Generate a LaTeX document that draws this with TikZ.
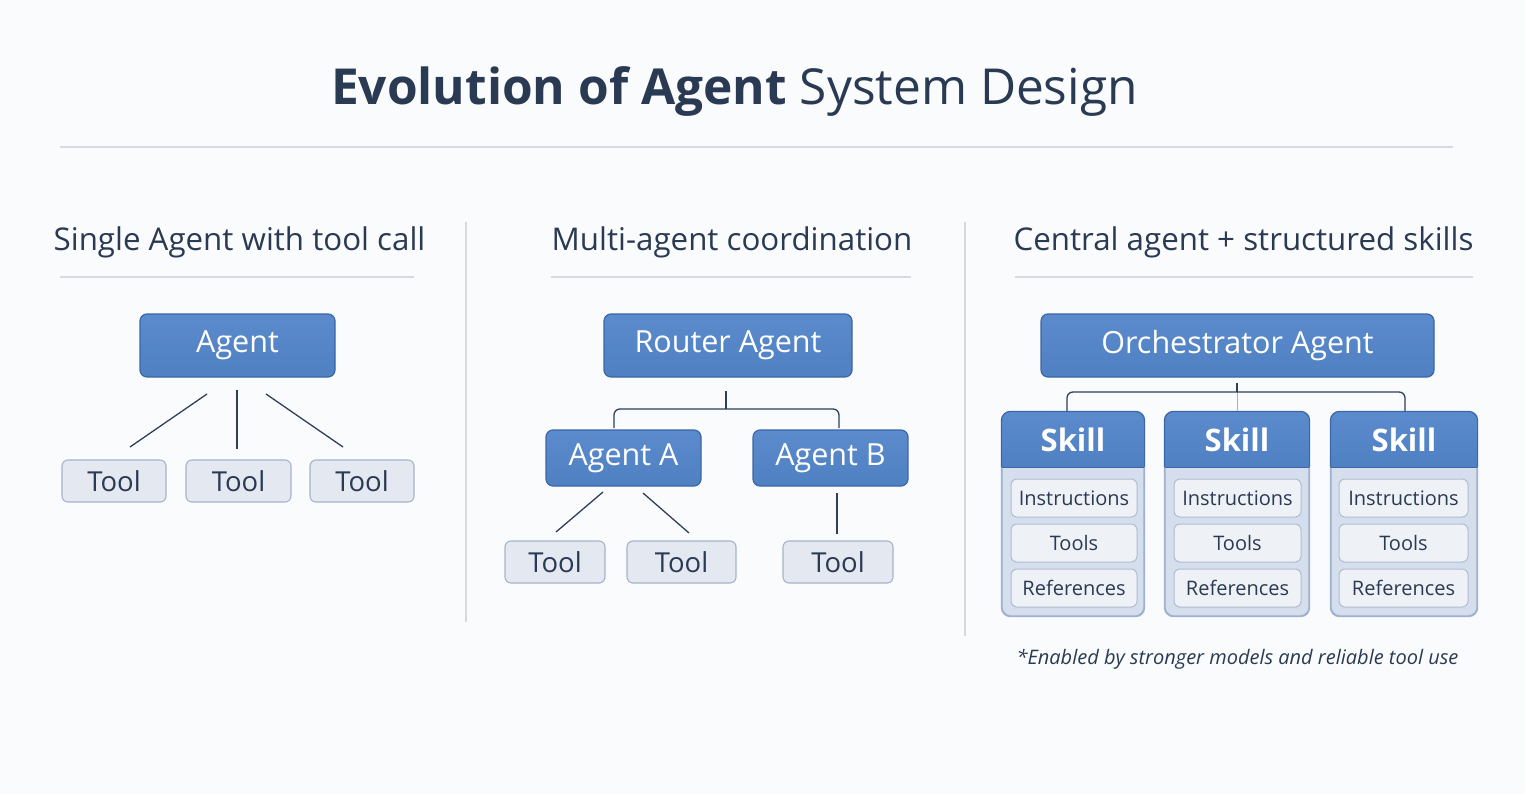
\documentclass[tikz,border=0pt]{standalone}
\usepackage{fontspec}
\setmainfont{Open Sans}
\usetikzlibrary{calc}
\definecolor{bg}{HTML}{FAFBFC}
\definecolor{ink}{HTML}{2A3A52}
\definecolor{rulec}{HTML}{D6DAE0}
\definecolor{blueF}{HTML}{4F80C2}
\definecolor{blueT}{HTML}{5B8BCC}
\definecolor{blueD}{HTML}{3C66A6}
\definecolor{toolF}{HTML}{E3E8F1}
\definecolor{toolD}{HTML}{A6B3C8}
\definecolor{bodyF}{HTML}{D5DEEC}
\definecolor{bodyD}{HTML}{9EB1CE}
\definecolor{itemF}{HTML}{EEF1F6}
\definecolor{itemD}{HTML}{AFBCD1}
\definecolor{conn}{HTML}{2E3F5C}
\tikzset{
  x=1pt, y=-1pt,
  agentbox/.style={draw=blueD, line width=1.2pt, rounded corners=7pt, top color=blueT, bottom color=blueF, text=white, font=\fontsize{30.5}{32}\selectfont, inner sep=0pt},
  toolbox/.style={draw=toolD, line width=1.1pt, rounded corners=6pt, fill=toolF, text=ink, font=\fontsize{27.5}{29}\selectfont, inner sep=0pt, minimum height=42pt},
  skillbody/.style={draw=bodyD, line width=1.2pt, rounded corners=9pt, fill=bodyF, inner sep=0pt, minimum height=204pt},
  itembox/.style={draw=itemD, line width=1pt, rounded corners=6pt, fill=itemF, text=ink, font=\fontsize{20}{22}\selectfont, inner sep=0pt, minimum height=38pt},
  connline/.style={draw=conn, line width=1.3pt},
  rulel/.style={draw=rulec, line width=1.2pt},
  heading/.style={text=ink, font=\fontsize{31.3}{33}\selectfont, anchor=base, inner sep=0pt},
}
\begin{document}
\begin{tikzpicture}
\fill[bg] (0,0) rectangle (1525,794);
\useasboundingbox (0,0) rectangle (1525,794);

% title
\node[text=ink, anchor=base, inner sep=0pt, font=\fontsize{49.6}{54}\selectfont] (title) at (734.5,105) {\textbf{Evolution of Agent} System Design};
\coordinate (trL) at (60,147); \coordinate (trR) at (1453,147);
\draw[rulel] (trL) -- (trR);

% dividers
\coordinate (d1t) at (466,222); \coordinate (d1b) at (466,622);
\coordinate (d2t) at (965,222); \coordinate (d2b) at (965,636);
\draw[rulel] (d1t) -- (d1b);
\draw[rulel] (d2t) -- (d2b);

% headings
\node[heading] (h1) at (239.5,251) {Single Agent with tool call};
\node[heading] (h2) at (732,251) {Multi-agent coordination};
\node[heading] (h3) at (1243.5,251) {Central agent + structured skills};
\coordinate (u1L) at (60,277); \coordinate (u1R) at (414,277);
\coordinate (u2L) at (551,277); \coordinate (u2R) at (911,277);
\coordinate (u3L) at (1015,277); \coordinate (u3R) at (1473,277);
\draw[rulel] (u1L) -- (u1R);
\draw[rulel] (u2L) -- (u2R);
\draw[rulel] (u3L) -- (u3R);

% ---------- panel 1
\node[agentbox, minimum width=195pt, minimum height=63pt] (ag1) at (237.5,345.5) {Agent};
\node[toolbox, minimum width=104pt] (t1a) at (114,481) {Tool};
\node[toolbox, minimum width=105pt] (t1b) at (238.5,481) {Tool};
\node[toolbox, minimum width=104pt] (t1c) at (362,481) {Tool};
\coordinate (c1a) at (207,394); \coordinate (e1a) at (130,447);
\coordinate (c1b) at (237,390); \coordinate (e1b) at (237,449);
\coordinate (c1c) at (266,394); \coordinate (e1c) at (343,447);
\draw[connline] (c1a) -- (e1a);
\draw[connline] (c1b) -- (e1b);
\draw[connline] (c1c) -- (e1c);

% ---------- panel 2
\node[agentbox, minimum width=248pt, minimum height=63pt] (rt) at (728,345.5) {Router Agent};
\node[agentbox, minimum width=155pt, minimum height=56pt] (agA) at (623.5,458) {Agent A};
\node[agentbox, minimum width=155pt, minimum height=56pt] (agB) at (830.5,458) {Agent B};
\node[toolbox, minimum width=100pt] (t2a) at (555,562) {Tool};
\node[toolbox, minimum width=109pt] (t2b) at (681.5,562) {Tool};
\node[toolbox, minimum width=110pt] (t2c) at (838,562) {Tool};
\coordinate (r0) at (726,391); \coordinate (r1) at (726,409);
\coordinate (rA) at (614,428); \coordinate (rB) at (839,428);
\draw[connline] (r0) -- (r1);
\draw[connline, rounded corners=6pt] (rA) |- (r1) -| (rB);
\coordinate (c2a) at (603,492); \coordinate (e2a) at (556,532);
\coordinate (c2b) at (643,493); \coordinate (e2b) at (689,533);
\coordinate (c2c) at (837,493); \coordinate (e2c) at (837,534);
\draw[connline] (c2a) -- (e2a);
\draw[connline] (c2b) -- (e2b);
\draw[connline] (c2c) -- (e2c);

% ---------- panel 3
\node[agentbox, minimum width=393pt, minimum height=63pt] (orc) at (1237.5,345.5) {Orchestrator Agent};
\foreach \n/\cx/\w/\ix/\iw in {1/1073/142/1074/126, 2/1237/144/1237.5/127, 3/1404/146/1403.5/129} {
  \node[skillbody, minimum width=\w pt] (s\n) at (\cx,514) {};
  \begin{scope}
    \clip[rounded corners=9pt] (s\n.south west) rectangle (s\n.north east);
    \fill[top color=blueT, bottom color=blueF] (s\n.north west) rectangle ($(s\n.north east)+(0,56)$);
    \draw[blueD, line width=1pt] ($(s\n.north west)+(0,56)$) -- ($(s\n.north east)+(0,56)$);
  \end{scope}
  \draw[blueD, line width=1.2pt, rounded corners=9pt] ($(s\n.north west)+(0,56)$) |- (s\n.north) -| ($(s\n.north east)+(0,56)$);
  \draw[bodyD, line width=1.2pt, rounded corners=9pt] ($(s\n.north west)+(0,56)$) |- (s\n.south) -| ($(s\n.north east)+(0,56)$);
  \node[text=white, font=\fontsize{31}{33}\selectfont\bfseries, anchor=base, inner sep=0pt] (sk\n) at ($(s\n.north)+(0,40)$) {Skill};
  \node[itembox, minimum width=\iw pt] (ins\n) at (\ix,498) {Instructions};
  \node[itembox, minimum width=\iw pt] (tls\n) at (\ix,543) {Tools};
  \node[itembox, minimum width=\iw pt] (ref\n) at (\ix,588) {References};
}
\coordinate (o0) at (1237,383); \coordinate (o1) at (1237,392); \coordinate (o2) at (1237,411);
\coordinate (oA) at (1067,411); \coordinate (oB) at (1405,411);
\draw[connline] (o0) -- (o1);
\draw[draw=bodyD, line width=1pt] (o1) -- (o2);
\draw[connline, rounded corners=6pt] (oA) |- (o1) -| (oB);

\node[text=ink, anchor=base, inner sep=0pt, font=\fontsize{20}{22}\selectfont\itshape] (note) at (1237.5,664) {*Enabled by stronger models and reliable tool use};
\end{tikzpicture}
\end{document}
